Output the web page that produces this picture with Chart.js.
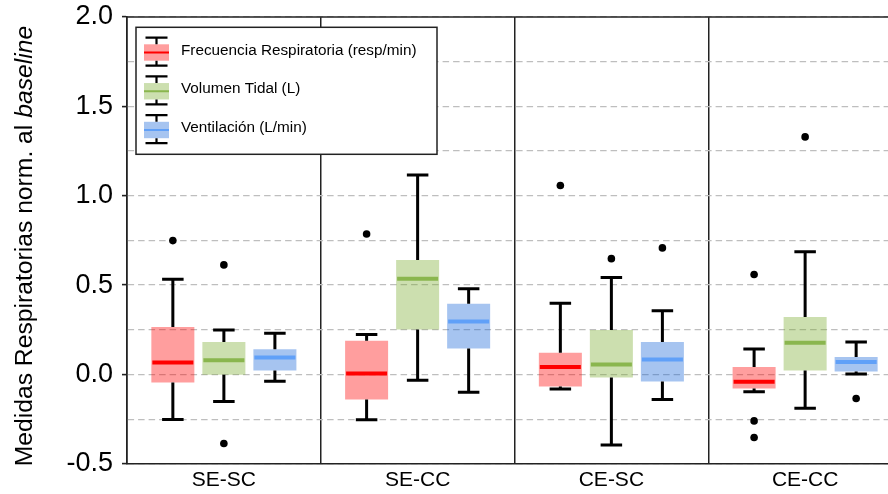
<!DOCTYPE html>
<html>
<head>
<meta charset="utf-8">
<script src="https://cdn.jsdelivr.net/npm/chart.js@4"></script>
<style>
  html, body { margin: 0; padding: 0; background: #fff; overflow: hidden; }
  #wrap { width: 888px; height: 494px; overflow: hidden; }
</style>
</head>
<body>
<div id="wrap"><canvas id="boxchart" width="905" height="494"></canvas></div>
<script>
const grupos = ['SE-SC', 'SE-CC', 'CE-SC', 'CE-CC']
const seriesNames = ['Frecuencia Respiratoria (resp/min)', 'Volumen Tidal (L)', 'Ventilación (L/min)']
const tituloY = ['Medidas Respiratorias norm. al ', 'baseline']

// Frecuencia respiratoria
const frMin = [-0.252, -0.254, -0.081, -0.097]
const frQ1 = [-0.045, -0.140, -0.068, -0.079]
const frMed = [0.067, 0.005, 0.041, -0.041]
const frQ3 = [0.266, 0.188, 0.121, 0.041]
const frMax = [0.533, 0.223, 0.399, 0.143]
const frOut = [[0.749], [0.786], [1.057], [0.559, -0.260, -0.353]]

// Volumen tidal
const vtMin = [-0.152, -0.032, -0.395, -0.189]
const vtQ1 = [-0.002, 0.251, -0.017, 0.022]
const vtMed = [0.080, 0.535, 0.055, 0.177]
const vtQ3 = [0.181, 0.641, 0.249, 0.322]
const vtMax = [0.249, 1.116, 0.542, 0.687]
const vtOut = [[0.613, -0.386], [1.754], [0.648], [1.329]]

// Ventilación
const veMin = [-0.038, -0.099, -0.140, 0.002]
const veQ1 = [0.022, 0.145, -0.040, 0.016]
const veMed = [0.095, 0.296, 0.083, 0.070]
const veQ3 = [0.141, 0.395, 0.181, 0.098]
const veMax = [0.231, 0.480, 0.357, 0.182]
const veOut = [[], [], [0.708], [-0.135]]

const yTicks = [-0.5, 0.0, 0.5, 1.0, 1.5, 2.0]

const fontFamily = "'Liberation Sans', Arial, Helvetica, sans-serif"

function isMajor(v) {
  return yTicks.some(t => Math.abs(t - v) < 1e-6)
}

function boxData(q1, q3) {
  return q1.map((v, i) => [v, q3[i]])
}

const dataBox = {
  labels: grupos,
  datasets: [{
    label: seriesNames[0],
    data: boxData(frQ1, frQ3),
    backgroundColor: 'rgba(255, 0, 0, 0.38)',
    medianColor: '#ff0000',
    medians: frMed,
    whiskerLow: frMin,
    whiskerHigh: frMax,
    outliers: frOut
  },
  {
    label: seriesNames[1],
    data: boxData(vtQ1, vtQ3),
    backgroundColor: 'rgba(120, 170, 45, 0.38)',
    medianColor: '#8ab64e',
    medians: vtMed,
    whiskerLow: vtMin,
    whiskerHigh: vtMax,
    outliers: vtOut
  },
  {
    label: seriesNames[2],
    data: boxData(veQ1, veQ3),
    backgroundColor: 'rgba(20, 100, 215, 0.38)',
    medianColor: '#60a0f8',
    medians: veMed,
    whiskerLow: veMin,
    whiskerHigh: veMax,
    outliers: veOut
  }]
}

const boxPlugin = {
  id: 'boxwhiskers',
  beforeDatasetsDraw(chart) {
    // linea superior del marco
    const { ctx, chartArea } = chart
    ctx.save()
    ctx.strokeStyle = '#222'
    ctx.lineWidth = 1.6
    ctx.beginPath()
    ctx.moveTo(chartArea.left, chartArea.top)
    ctx.lineTo(chartArea.right, chartArea.top)
    ctx.stroke()
    ctx.restore()
  },
  afterDatasetsDraw(chart) {
    const ctx = chart.ctx
    const y = chart.scales.y
    chart.data.datasets.forEach((ds, d) => {
      const meta = chart.getDatasetMeta(d)
      meta.data.forEach((bar, i) => {
        const x = bar.x
        const w = bar.width
        const yq1 = y.getPixelForValue(ds.data[i][0])
        const yq3 = y.getPixelForValue(ds.data[i][1])
        const ylo = y.getPixelForValue(ds.whiskerLow[i])
        const yhi = y.getPixelForValue(ds.whiskerHigh[i])
        ctx.save()
        ctx.strokeStyle = '#000'
        ctx.lineWidth = 3
        ctx.beginPath()
        ctx.moveTo(x, yq3)
        ctx.lineTo(x, yhi)
        ctx.moveTo(x, yq1)
        ctx.lineTo(x, ylo)
        ctx.moveTo(x - w / 4, yhi)
        ctx.lineTo(x + w / 4, yhi)
        ctx.moveTo(x - w / 4, ylo)
        ctx.lineTo(x + w / 4, ylo)
        ctx.stroke()

        const ym = y.getPixelForValue(ds.medians[i])
        ctx.strokeStyle = ds.medianColor
        ctx.lineWidth = 4
        ctx.beginPath()
        ctx.moveTo(x - w / 2 + 1, ym)
        ctx.lineTo(x + w / 2 - 1, ym)
        ctx.stroke()

        ctx.fillStyle = '#000'
        ds.outliers[i].forEach(v => {
          ctx.beginPath()
          ctx.arc(x, y.getPixelForValue(v), 3.8, 0, Math.PI * 2)
          ctx.fill()
        })
        ctx.restore()
      })
    })
  },
  afterDraw(chart) {
    const ctx = chart.ctx

    // leyenda
    ctx.save()
    ctx.fillStyle = '#fff'
    ctx.fillRect(136, 27.3, 301, 127)
    ctx.strokeStyle = '#222'
    ctx.lineWidth = 1.5
    ctx.strokeRect(136, 27.3, 301, 127)
    chart.data.datasets.forEach((ds, i) => {
      const cy = 52.5 + i * 38.75
      ctx.fillStyle = ds.backgroundColor
      ctx.fillRect(144, cy - 8.2, 25, 16.4)
      ctx.strokeStyle = ds.medianColor
      ctx.lineWidth = 2
      ctx.beginPath()
      ctx.moveTo(144, cy)
      ctx.lineTo(169, cy)
      ctx.stroke()
      ctx.strokeStyle = '#000'
      ctx.lineWidth = 2.2
      ctx.beginPath()
      ctx.moveTo(156.5, cy - 8.2)
      ctx.lineTo(156.5, cy - 14.8)
      ctx.moveTo(156.5, cy + 8.2)
      ctx.lineTo(156.5, cy + 13.2)
      ctx.moveTo(145.5, cy - 14.8)
      ctx.lineTo(167.5, cy - 14.8)
      ctx.moveTo(145.5, cy + 13.2)
      ctx.lineTo(167.5, cy + 13.2)
      ctx.stroke()
      ctx.fillStyle = '#000'
      ctx.font = '15.3px ' + fontFamily
      ctx.textBaseline = 'middle'
      ctx.textAlign = 'left'
      ctx.fillText(ds.label, 181, cy - 2)
    })
    ctx.restore()

    // titulo del eje y con "baseline" en cursiva
    ctx.save()
    ctx.translate(32.3, 246.1)
    ctx.rotate(-Math.PI / 2)
    ctx.fillStyle = '#000'
    ctx.textBaseline = 'alphabetic'
    ctx.textAlign = 'left'
    const normal = '24.7px ' + fontFamily
    const italic = 'italic 24.7px ' + fontFamily
    ctx.font = normal
    const w1 = ctx.measureText(tituloY[0]).width
    ctx.font = italic
    const w2 = ctx.measureText(tituloY[1]).width
    const x0 = -(w1 + w2) / 2
    ctx.font = normal
    ctx.fillText(tituloY[0], x0, 0)
    ctx.font = italic
    ctx.fillText(tituloY[1], x0 + w1, 0)
    ctx.restore()
  }
}

const boxChartConfig = {
  type: 'bar',
  data: dataBox,
  plugins: [boxPlugin],
  options: {
    responsive: false,
    animation: false,
    layout: {
      padding: { left: 65, top: 17, right: 3, bottom: -3 }
    },
    datasets: {
      bar: {
        categoryPercentage: 0.79,
        barPercentage: 0.843,
        borderWidth: 0
      }
    },
    plugins: {
      legend: { display: false },
      tooltip: { enabled: false }
    },
    scales: {
      x: {
        offset: true,
        grid: {
          offset: true,
          color: '#222',
          lineWidth: 1.5,
          drawTicks: false
        },
        border: { color: '#222', width: 1.6 },
        ticks: {
          color: '#000',
          padding: 4,
          font: { family: fontFamily, size: 21 }
        }
      },
      y: {
        min: -0.5,
        max: 2.0,
        afterFit: (scale) => {
          scale.width = 62
          scale.paddingTop = 0
          scale.paddingBottom = 0
        },
        grid: {
          color: '#bebebe',
          lineWidth: 1.2,
          tickLength: 5,
          tickWidth: 1.6,
          tickColor: (c) => isMajor(c.tick.value) ? '#222' : 'rgba(0,0,0,0)'
        },
        border: { color: '#222', width: 1.6, dash: [6.5, 4] },
        ticks: {
          stepSize: 0.25,
          padding: 9,
          color: '#000',
          font: { family: fontFamily, size: 27 },
          callback: (value) => isMajor(value) ? value.toFixed(1) : ''
        }
      }
    }
  }
}

const boxCtx = document.getElementById('boxchart').getContext('2d')
const boxChart = new Chart(boxCtx, boxChartConfig)
</script>
</body>
</html>
